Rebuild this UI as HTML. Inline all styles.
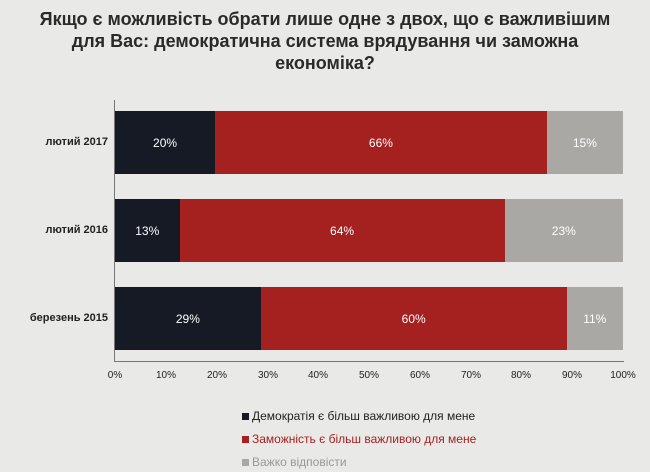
<!DOCTYPE html>
<html><head><meta charset="utf-8"><style>
body{margin:0;width:650px;height:472px;overflow:hidden;background:#e9e9e7;font-family:"Liberation Sans",sans-serif;position:relative;color:#222}
.t{position:absolute;left:0;width:650px;top:8px;text-align:center;font-weight:bold;font-size:18px;line-height:22px;color:#2a2a2a}
.bar{position:absolute;left:115px;height:63px;width:508px;display:flex}
.bar div{height:100%;display:flex;align-items:center;justify-content:center;color:#fff;font-size:12px}
.d{background:#161a24}.r{background:#a5211f}.g{background:#aaa8a5}
.lab{position:absolute;right:542px;font-size:11px;font-weight:bold;color:#222}
.tk{position:absolute;top:370px;font-size:10px;width:40px;margin-left:-20px;text-align:center}
.lg{position:absolute;left:242px;font-size:12px}
.sq{display:inline-block;width:7px;height:7px;margin-right:3px}
</style></head><body>
<div class="t">Якщо є можливість обрати лише одне з двох, що є важливішим<br>для Вас: демократична система врядування чи заможна<br>економіка?</div>
<div style="position:absolute;left:114px;top:100px;width:1px;height:262px;background:#777"></div>
<div style="position:absolute;left:114px;top:361px;width:510px;height:1px;background:#777"></div>
<div class="bar" style="top:111px"><div class="d" style="width:19.7%">20%</div><div class="r" style="width:65.3%">66%</div><div class="g" style="width:15%">15%</div></div>
<div class="bar" style="top:199px"><div class="d" style="width:12.7%">13%</div><div class="r" style="width:64%">64%</div><div class="g" style="width:23.3%">23%</div></div>
<div class="bar" style="top:287px"><div class="d" style="width:28.7%">29%</div><div class="r" style="width:60.2%">60%</div><div class="g" style="width:11.1%">11%</div></div>
<div class="lab" style="top:136px">лютий 2017</div>
<div class="lab" style="top:224px">лютий 2016</div>
<div class="lab" style="top:312px">березень 2015</div>
<div class="tk" style="left:115px">0%</div><div class="tk" style="left:166px">10%</div><div class="tk" style="left:217px">20%</div><div class="tk" style="left:268px">30%</div><div class="tk" style="left:318px">40%</div><div class="tk" style="left:369px">50%</div><div class="tk" style="left:420px">60%</div><div class="tk" style="left:471px">70%</div><div class="tk" style="left:521px">80%</div><div class="tk" style="left:572px">90%</div><div class="tk" style="left:623px">100%</div>
<div class="lg" style="top:409px"><span class="sq d"></span>Демократія є більш важливою для мене</div>
<div class="lg" style="top:432px;color:#a5211f"><span class="sq r"></span>Заможність є більш важливою для мене</div>
<div class="lg" style="top:455px;color:#999"><span class="sq g"></span>Важко відповісти</div>
</body></html>
